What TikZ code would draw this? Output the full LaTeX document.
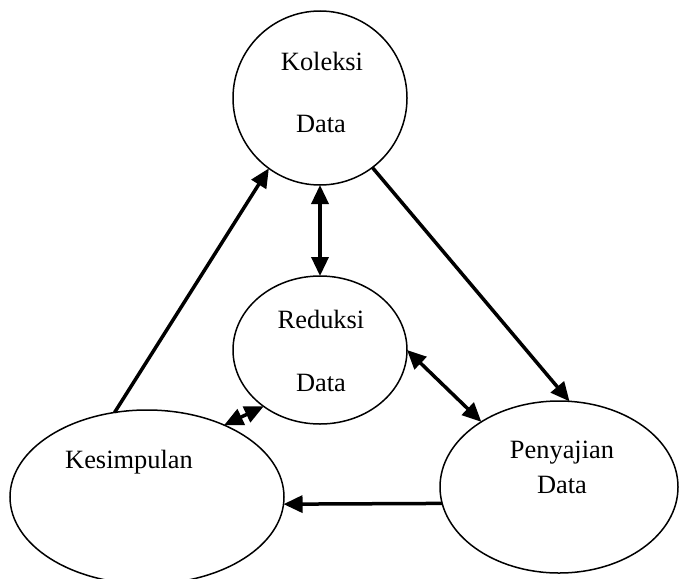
\documentclass[tikz,border=0pt]{standalone}
\usepackage{fontspec}
\setmainfont{Liberation Serif}
\usetikzlibrary{arrows.meta}
\usetikzlibrary{shapes.geometric}
\tikzset{blob/.style = {draw, ellipse, line width=0.75pt, inner sep=0pt, outer sep=0pt},
         link/.style = {line width=1.75pt, -{Triangle[length=9.5pt, width=8.5pt]}},
         both/.style = {line width=1.75pt, {Triangle[length=9.5pt, width=8.5pt]}-{Triangle[length=9.5pt, width=8.5pt]}},
         lbl/.style  = {font=\fontsize{13.2}{15}\selectfont, inner sep=0pt, anchor=base}}

\begin{document}
\begin{tikzpicture}[x=0.5pt, y=-0.5pt]
    \useasboundingbox (0, 0) rectangle (679, 578);
    \clip (0, 0) rectangle (679, 578);

    % the four stages
    \node [blob, minimum width=87pt, minimum height=87pt] (kol) at (320, 98) {};
    \node [blob, minimum width=87pt, minimum height=74pt] (red) at (320, 350) {};
    \node [blob, minimum width=137pt, minimum height=87pt] (kes) at (147, 497) {};
    \node [blob, minimum width=119pt, minimum height=86pt] (pen) at (559, 487) {};

    \node [lbl] (kolA) at (322, 70) {Koleksi};
    \node [lbl] (kolB) at (321, 132) {Data};
    \node [lbl] (redA) at (321, 328) {Reduksi};
    \node [lbl] (redB) at (321, 391) {Data};
    \node [lbl] (kesA) at (129, 468) {Kesimpulan};
    \node [lbl] (penA) at (562, 458) {Penyajian};
    \node [lbl] (penB) at (562, 493) {Data};

    % flows
    \draw [both] (kol.-90) -- (red.90);
    \draw [link] (kol.-53) -- (pen.83);
    \draw [link] (kes.111) -- (kol.234);
    \draw [both] (red.0) -- (pen.140);
    \draw [both] (red.225) -- (kes.43);
    \draw [link] (pen.188) -- (kes.-3);
\end{tikzpicture}
\end{document}
